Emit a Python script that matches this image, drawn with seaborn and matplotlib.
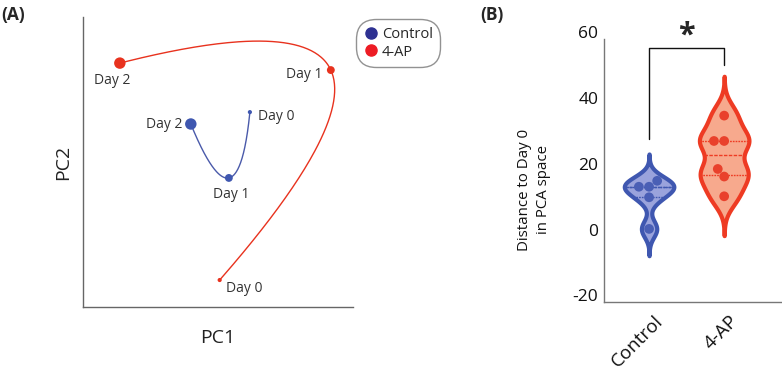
import numpy as np
import pandas as pd
import matplotlib
matplotlib.use('Agg')
import matplotlib.pyplot as plt
import matplotlib.transforms as mtransforms
from matplotlib.lines import Line2D
import seaborn as sns

# panel A: PCA trajectory (arbitrary PC units)
days = [0, 1, 2]
ctrl_pc1 = [61.9, 54.1, 40.0]
ctrl_pc2 = [67.2, 44.5, 63.1]
ap_pc1 = [50.7, 91.9, 13.7]
ap_pc2 = [9.3, 81.7, 84.1]

# panel B: distance to day 0
groups = ['Control', '4-AP']
ctrl_dist = [13.0, 14.8, 13.0, 9.8, 0.2]
ap_dist = [34.6, 26.9, 26.9, 18.4, 16.1, 10.1]

blue = '#3f57b0'
red = '#e8321e'

sns.set_style('white')
plt.rcParams['font.family'] = ['Open Sans', 'DejaVu Sans']
plt.rcParams['axes.unicode_minus'] = False

fig = plt.figure(figsize=(7.82, 3.71), dpi=100)
axA = fig.add_axes([0.106, 0.1725, 0.345, 0.7817])
axB = fig.add_axes([0.7724, 0.186, 0.2276, 0.7278])


def quad_curve(xs, ys, n=200):
	# smooth parametric quadratic passing through the three day points
	t = np.linspace(0, 2, n)
	l0 = (t - 1) * (t - 2) / 2
	l1 = -t * (t - 2)
	l2 = t * (t - 1) / 2
	return xs[0] * l0 + xs[1] * l1 + xs[2] * l2, ys[0] * l0 + ys[1] * l1 + ys[2] * l2


pca_df = pd.DataFrame({
	'PC1': ctrl_pc1 + ap_pc1,
	'PC2': ctrl_pc2 + ap_pc2,
	'group': ['Control'] * 3 + ['4-AP'] * 3,
	'day': days + days,
})

for g, c in [('Control', '#4a5aaa'), ('4-AP', red)]:
	sub = pca_df[pca_df.group == g]
	cx, cy = quad_curve(sub.PC1.values, sub.PC2.values)
	axA.plot(cx, cy, color=c, lw=1.0, zorder=1)

sns.scatterplot(data=pca_df, x='PC1', y='PC2', hue='group', size='day',
				palette={'Control': blue, '4-AP': red}, sizes={0: 9, 1: 32, 2: 68},
				linewidth=0, legend=False, ax=axA, zorder=2)

lab_kw = dict(fontsize=10, color='#333333')
axA.text(ap_pc1[2] - 3, ap_pc2[2] - 3.5, 'Day 2', ha='center', va='top', **lab_kw)
axA.text(ap_pc1[1] - 3, ap_pc2[1] - 1.5, 'Day 1', ha='right', va='center', **lab_kw)
axA.text(ap_pc1[0] + 2.5, ap_pc2[0] - 0.5, 'Day 0', ha='left', va='top', **lab_kw)
axA.text(ctrl_pc1[2] - 3, ctrl_pc2[2], 'Day 2', ha='right', va='center', **lab_kw)
axA.text(ctrl_pc1[1] + 1, ctrl_pc2[1] - 3, 'Day 1', ha='center', va='top', **lab_kw)
axA.text(ctrl_pc1[0] + 3, ctrl_pc2[0] - 1.5, 'Day 0', ha='left', va='center', **lab_kw)

axA.set_xlim(0, 100)
axA.set_ylim(0, 100)
axA.set_xticks([])
axA.set_yticks([])
axA.set_xlabel('PC1', fontsize=14, color='#222222', labelpad=16)
axA.set_ylabel('PC2', fontsize=14, color='#222222', labelpad=8)
for s in ['top', 'right']:
	axA.spines[s].set_visible(False)
for s in ['left', 'bottom']:
	axA.spines[s].set_color('#666666')
	axA.spines[s].set_linewidth(1.0)

handles = [Line2D([], [], marker='o', ls='', color='#2e3192', markersize=8, label='Control'),
		   Line2D([], [], marker='o', ls='', color='#ed1c24', markersize=8, label='4-AP')]
lg = fig.legend(handles=handles, loc='upper left', bbox_to_anchor=(0.4575, 0.944),
				frameon=True, fontsize=10.5, handletextpad=0.25, handlelength=1.0,
				borderpad=0.4, labelspacing=0.2, borderaxespad=0)
lg.get_frame().set_edgecolor('#777777')
lg.get_frame().set_linewidth(1.0)
lg.get_frame().set_boxstyle('round,pad=0.12,rounding_size=1.4')

# panel B: violins
dist_df = pd.DataFrame({
	'group': ['Control'] * len(ctrl_dist) + ['4-AP'] * len(ap_dist),
	'dist': ctrl_dist + ap_dist,
})
fills = {'Control': '#9aa3dc', '4-AP': '#f7a98d'}
edges = {'Control': blue, '4-AP': '#ee3b23'}
dots = {'Control': '#4a5fb5', '4-AP': '#e9412c'}

for g in groups:
	sns.violinplot(data=dist_df[dist_df.group == g], x='group', y='dist', order=groups,
				   color=fills[g], linecolor=edges[g], linewidth=3, inner='quart',
				   inner_kws={'linewidth': 1.0}, density_norm='width', width=0.66,
				   bw_adjust=0.6, cut=3.2, saturation=1, ax=axB)

sns.swarmplot(data=dist_df, x='group', y='dist', hue='group', order=groups,
			  palette=dots, size=7, linewidth=0, legend=False, ax=axB)

# significance bracket
axB.plot([0, 0, 1, 1], [27.4, 55, 55, 50], color='#111111', lw=1.0)
axB.text(0.5, 59, '*', ha='center', va='center', fontsize=22, fontweight='bold')

axB.set_xlim(-0.6, 1.77)
axB.set_ylim(-22, 60)
axB.set_yticks([-20, 0, 20, 40, 60])
axB.tick_params(axis='y', length=0, labelsize=12.5, colors='#111111', pad=4)
axB.tick_params(axis='x', length=0, labelsize=13.5, colors='#111111', pad=7)
axB.set_xticks([0, 1])
axB.set_xticklabels(groups, rotation=45, ha='right', rotation_mode='anchor')
shift = mtransforms.ScaledTranslation(5 / 100, 0, fig.dpi_scale_trans)
for lbl in axB.get_xticklabels():
	lbl.set_transform(lbl.get_transform() + shift)
axB.set_xlabel('')
axB.set_ylabel('Distance to Day 0\nin PCA space', fontsize=10.8, color='#111111',
			   linespacing=1.3)
axB.yaxis.set_label_coords(-0.30, 0.415)
for s in ['top', 'right']:
	axB.spines[s].set_visible(False)
for s in ['left', 'bottom']:
	axB.spines[s].set_color('#777777')
	axB.spines[s].set_linewidth(1.0)
axB.spines['left'].set_bounds(-22, 58)

fig.text(0.002, 0.985, '(A)', fontsize=12.5, fontweight='bold', va='top', ha='left')
fig.text(0.614, 0.985, '(B)', fontsize=12.5, fontweight='bold', va='top', ha='left')

fig.savefig('out.png', dpi=100)
